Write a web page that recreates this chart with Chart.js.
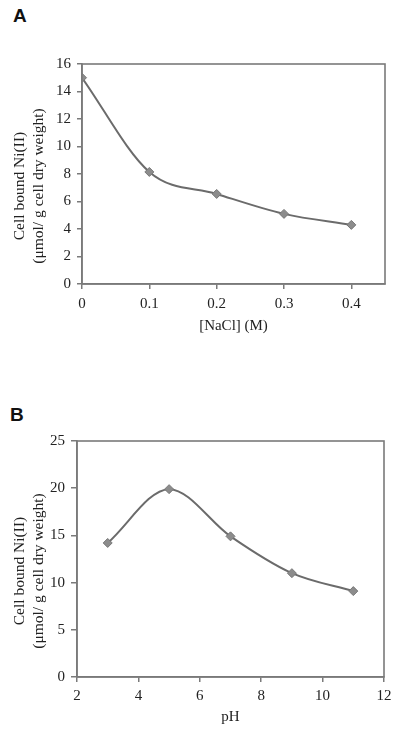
<!DOCTYPE html>
<html>
<head>
<meta charset="utf-8">
<script src="https://cdn.jsdelivr.net/npm/chart.js@4"></script>
<style>
  body { margin: 0; background: #fff; }
  #page { position: relative; width: 400px; height: 730px; }
  .panel { position: absolute; left: 0; }
  .letter { position: absolute; font-family: "Liberation Sans", Arial, sans-serif; font-weight: bold; font-size: 19px; color: #111; }
</style>
</head>
<body>
<div id="page">
  <div class="letter" style="left:13px; top:5px;">A</div>
  <div class="panel" style="top:0px;"><canvas id="naclChart" width="400" height="340"></canvas></div>
  <div class="letter" style="left:10px; top:404px;">B</div>
  <div class="panel" style="top:370px;"><canvas id="phChart" width="400" height="360"></canvas></div>
</div>
<script>
// panel A - NaCl concentration
const naclConc = [0, 0.1, 0.2, 0.3, 0.4];
const niBoundNaCl = [15.0, 8.15, 6.55, 5.1, 4.3];
const naclTicks = [0, 0.1, 0.2, 0.3, 0.4];
const yTicksA = [0, 2, 4, 6, 8, 10, 12, 14, 16];

// panel B - pH
const phValues = [3, 5, 7, 9, 11];
const niBoundPH = [14.2, 19.9, 14.9, 11.0, 9.1];
const phTicks = [2, 4, 6, 8, 10, 12];
const yTicksB = [0, 5, 10, 15, 20, 25];

const yTitle = ['Cell bound Ni(II)', '(\u03bcmol/ g cell dry weight)'];

const serif = '"Liberation Serif", "DejaVu Serif", serif';
const axisGray = '#7a7a7a';
const textColor = '#222';

// full box around the plot area + the two-line y title (sits a bit below centre in the original)
const framePlugin = {
  id: 'frame',
  afterDraw(chart, args, opts) {
    const a = chart.chartArea;
    const ctx = chart.ctx;
    ctx.save();
    ctx.strokeStyle = axisGray;
    ctx.lineWidth = 1.6;
    ctx.strokeRect(a.left, a.top, a.right - a.left, a.bottom - a.top);

    const cy = (a.top + a.bottom) / 2 + opts.shift;
    ctx.fillStyle = textColor;
    ctx.font = '15.5px ' + serif;
    ctx.textAlign = 'center';
    ctx.textBaseline = 'middle';
    opts.lines.forEach((line, i) => {
      ctx.save();
      ctx.translate(opts.x + i * opts.gap, cy);
      ctx.rotate(-Math.PI / 2);
      ctx.fillText(line, 0, 0);
      ctx.restore();
    });
    ctx.restore();
  }
};

function makeChart(id, xs, ys, xTickVals, yTickVals, xMin, xMax, yMax, xTitle, pad, xHeight, yWidth, tick) {
  const ctx = document.getElementById(id).getContext('2d');
  return new Chart(ctx, {
    type: 'scatter',
    data: {
      datasets: [{
        data: xs.map((x, i) => ({ x: x, y: ys[i] })),
        showLine: true,
        borderColor: '#6b6b6b',
        borderWidth: 2,
        cubicInterpolationMode: 'monotone',
        pointStyle: 'rectRot',
        pointRadius: 4.5,
        pointBackgroundColor: '#8c8c8c',
        pointBorderColor: '#777',
        pointBorderWidth: 1
      }]
    },
    options: {
      responsive: false,
      animation: false,
      layout: { padding: pad },
      plugins: {
        legend: { display: false },
        tooltip: { enabled: false },
        frame: { lines: yTitle, x: 20, gap: 19, shift: 12 }
      },
      scales: {
        x: {
          type: 'linear',
          min: xMin,
          max: xMax,
          afterBuildTicks: (s) => { s.ticks = xTickVals.map(v => ({ value: v })); },
          afterFit: (s) => { s.height = xHeight; },
          border: { color: axisGray, width: 1.6 },
          grid: { drawOnChartArea: false, drawTicks: true, tickLength: 5, color: axisGray, lineWidth: 1.5 },
          ticks: { color: textColor, padding: tick.xPad, font: { family: serif, size: 15 }, maxRotation: 0, callback: (v) => String(v) },
          title: { display: true, text: xTitle, color: textColor, font: { family: serif, size: 15 }, padding: { top: 4, bottom: 4 } }
        },
        y: {
          type: 'linear',
          min: 0,
          max: yMax,
          afterBuildTicks: (s) => { s.ticks = yTickVals.map(v => ({ value: v })); },
          afterFit: (s) => { s.width = yWidth; },
          border: { color: axisGray, width: 1.6 },
          grid: { drawOnChartArea: false, drawTicks: true, tickLength: tick.yLen, color: axisGray, lineWidth: 1.5 },
          ticks: { color: textColor, padding: 6, font: { family: serif, size: 15 } },
          title: { display: false }
        }
      }
    },
    plugins: [framePlugin]
  });
}

makeChart('naclChart', naclConc, niBoundNaCl, naclTicks, yTicksA, 0, 0.45, 16, '[NaCl] (M)',
  { top: 64, right: 15, bottom: 1, left: 0 }, 55, 82, { xPad: 6, yLen: 5 });
makeChart('phChart', phValues, niBoundPH, phTicks, yTicksB, 2, 12, 25, 'pH',
  { top: 71, right: 16, bottom: 0, left: 0 }, 53, 77, { xPad: 5, yLen: 6 });
</script>
</body>
</html>
